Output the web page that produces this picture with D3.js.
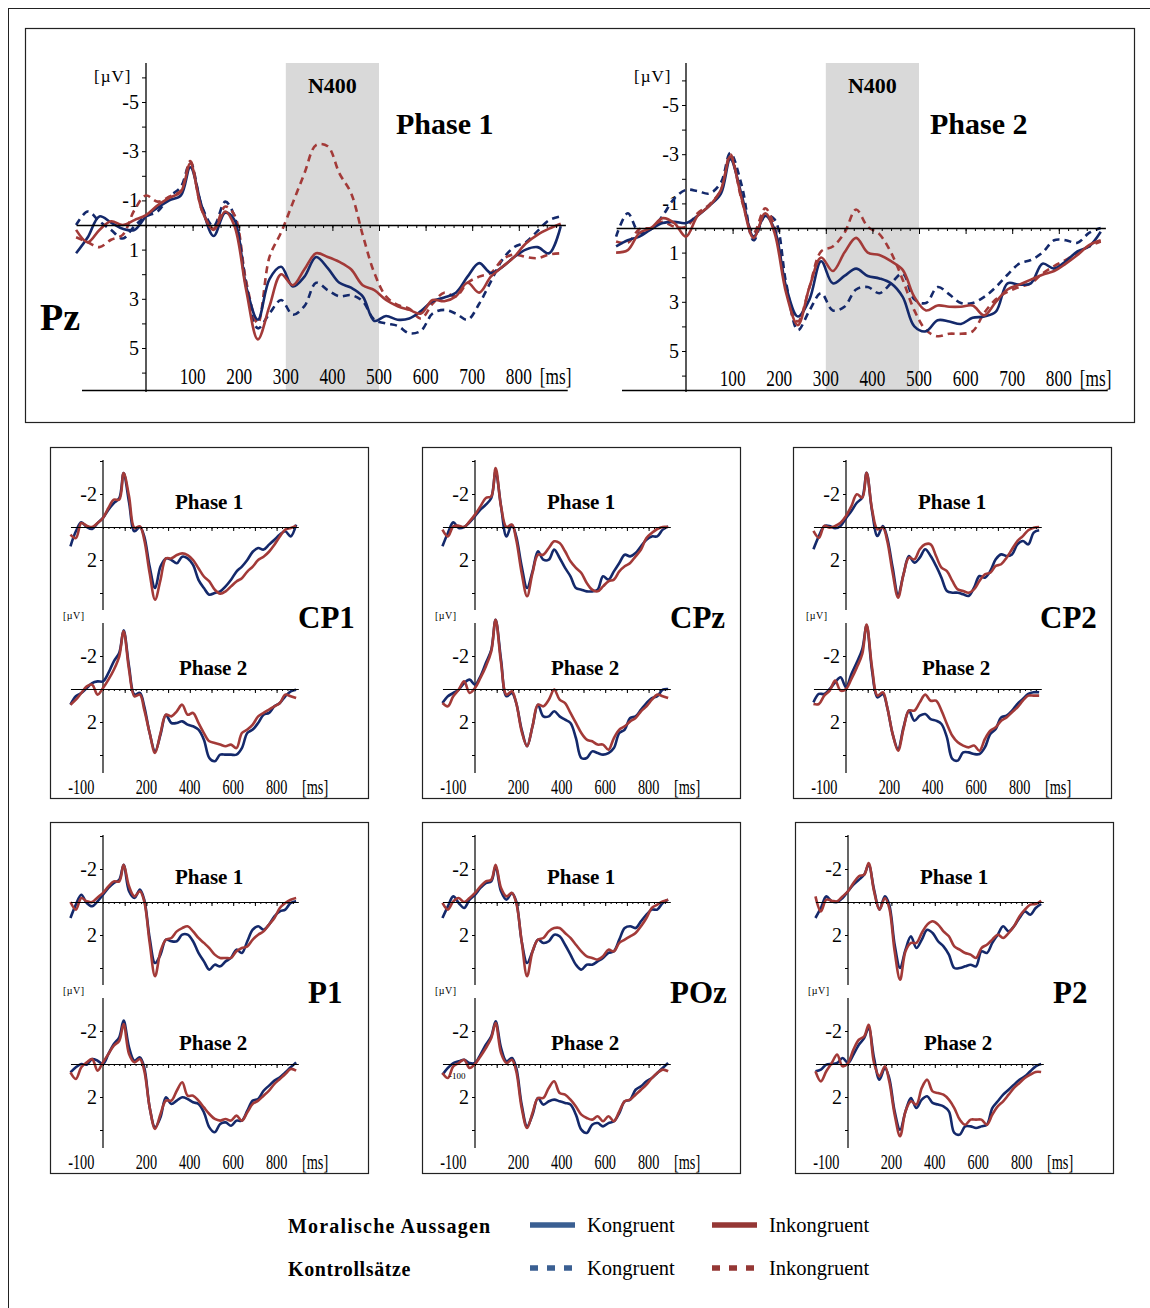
<!DOCTYPE html>
<html>
<head>
<meta charset="utf-8">
<script src="https://cdn.jsdelivr.net/npm/d3@7"></script>
<style>
    body { margin: 0; background: #fff; }
    text { font-family: "Liberation Serif", "Times New Roman", serif; }
</style>
</head>
<body>
<svg id="chart" width="1150" height="1308"></svg>
<script>
// sample times in ms, shared by every curve
var times = [-150, -125, -100, -75, -50, -25, 0, 25, 50, 75, 95, 120, 145, 170, 190, 215, 240, 265, 290, 315,
    340, 365, 390, 415, 440, 465, 490, 515, 540, 565, 590, 615, 640, 665, 690, 715, 740, 765, 790, 815, 840, 865, 890];

// Pz, values in microvolt (MK = Moralische Kongruent, MI = Moralische Inkongruent, KK / KI = Kontrollsaetze)
var pzP1MK = [1.15, 0.5, -0.35, -0.1, 0.15, 0.2, -0.35, -0.7, -1.0, -1.2, -2.35, -0.75, 0.45, -0.5, -0.2, 2.5, 3.85, 2.2, 1.7, 2.5, 2.1, 1.3, 1.75, 2.35, 2.55, 2.9, 3.9, 3.7, 3.85, 3.8, 3.5, 3.1, 2.95, 2.75, 2.1, 1.55, 1.95, 1.7, 1.3, 1.0, 0.9, 1.15, 0.05];
var pzP1MI = [0.2, 0.7, 0.2, -0.15, 0, -0.2, -0.4, -0.8, -1.1, -1.35, -2.5, -0.6, 0.2, -0.55, 0.05, 2.65, 4.65, 3.3, 2.0, 2.45, 1.8, 1.15, 1.3, 1.5, 1.8, 2.45, 2.65, 3.05, 3.3, 3.45, 3.6, 3.05, 3.1, 2.9, 2.35, 2.75, 2.1, 1.7, 1.3, 0.75, 0.4, 0.15, -0.05];
var pzP1KK = [0, -0.55, -0.15, 0.2, 0.55, 0.05, -0.35, -0.55, -1.15, -1.55, -2.55, -0.75, 0.05, -0.95, -0.35, 2.35, 4.2, 3.6, 3.05, 3.65, 3.3, 2.35, 2.65, 2.9, 2.85, 3.1, 3.85, 4.0, 4.1, 4.4, 4.3, 3.6, 3.45, 3.6, 3.85, 3.2, 2.3, 1.4, 0.9, 0.7, 0.25, -0.2, -0.35];
var pzP1KI = [0.5, 0.7, 0.9, 0.6, 0.4, -0.6, -1.2, -0.95, -1.15, -1.4, -2.6, -0.6, 0.15, -0.75, -0.4, 2.3, 4.0, 1.3, 0.3, -0.9, -2.1, -3.25, -3.2, -2.1, -1.3, 0.4, 1.95, 2.9, 3.25, 3.4, 3.8, 3.2, 2.75, 2.9, 2.35, 2.1, 1.95, 1.4, 1.2, 1.3, 1.35, 1.2, 1.15];
var pzP2MK = [0.75, 0.5, 0.35, 0.05, -0.2, -0.25, -0.2, -0.5, -0.9, -1.4, -2.8, -1.3, 0.35, -0.5, 0.05, 2.4, 3.6, 2.9, 1.35, 2.25, 1.95, 1.65, 1.95, 2.05, 2.25, 2.8, 4.0, 4.2, 3.75, 3.8, 3.9, 3.65, 3.6, 3.4, 2.25, 2.3, 2.25, 1.45, 1.65, 1.35, 0.95, 0.75, 0.15];
var pzP2MI = [1.0, 0.9, 0.2, 0, -0.4, -0.2, 0.35, -0.5, -0.9, -1.55, -2.9, -1.15, 0.4, -0.6, 0.2, 2.65, 3.95, 2.4, 1.2, 1.75, 1.0, 0.4, 1.0, 1.1, 1.35, 1.7, 2.8, 3.35, 3.15, 3.2, 3.2, 3.15, 3.55, 3.0, 2.5, 2.3, 2.1, 1.9, 1.75, 1.45, 1.1, 0.7, 0.5];
var pzP2KK = [0.35, -0.6, 0.2, 0.05, -0.5, -1.2, -1.55, -1.5, -1.4, -1.85, -3.05, -1.7, 0.5, -0.5, -0.35, 2.25, 4.15, 3.35, 2.65, 3.35, 3.2, 2.5, 2.4, 2.65, 2.25, 1.85, 2.9, 3.05, 2.4, 2.7, 3.05, 3.05, 2.8, 2.4, 1.9, 1.45, 1.3, 1.0, 0.5, 0.5, 0.6, 0.2, 0];
var pzP2KI = [0.55, 0.6, 0.05, 0, -0.25, -0.05, -0.05, -0.6, -0.95, -1.55, -3.0, -1.1, 0.2, -0.8, -0.05, 2.5, 3.8, 2.4, 0.95, 0.75, 0.2, -0.75, -0.05, 0.25, 1.0, 2.1, 3.35, 4.15, 4.4, 4.3, 4.3, 4.2, 3.45, 2.9, 2.6, 2.4, 2.25, 1.85, 1.55, 1.3, 1.0, 0.75, 0.55];

// other electrodes, Moralische Aussagen only
var cp1P1MK = [1.17, 0.26, -0.28, 0, 0.12, -0.24, -0.55, -1.05, -1.45, -1.75, -3.27, -1.5, 0.26, 0, 0.57, 2.4, 3.7, 2.4, 1.9, 2.0, 2.2, 1.8, 1.9, 2.3, 3.2, 3.7, 4.1, 4.0, 3.9, 3.6, 3.2, 2.7, 2.4, 2.0, 1.5, 1.27, 1.37, 1.07, 0.77, 0.46, 0.26, 0.57, -0.14];
var cp1P1MI = [0.46, 0.67, -0.24, -0.08, 0, -0.24, -0.55, -1.15, -1.66, -1.66, -3.27, -1.86, 0.06, -0.04, 0.77, 2.8, 4.4, 3.2, 1.9, 1.9, 1.7, 1.6, 1.7, 2.0, 2.5, 3.0, 3.3, 3.8, 4.04, 3.9, 3.6, 3.3, 3.1, 2.7, 2.4, 2.0, 1.8, 1.5, 1.07, 0.57, 0.16, 0.06, -0.08];
var cp1P2MK = [0.95, 0.44, 0.24, -0.06, -0.36, -0.46, -0.46, -0.97, -1.68, -2.2, -3.56, -1.37, 0.34, 0.24, 1.05, 2.67, 3.78, 2.77, 1.56, 2.06, 2.06, 1.96, 2.16, 2.26, 2.46, 3.07, 4.18, 4.38, 3.98, 3.98, 3.98, 3.98, 3.58, 2.67, 2.46, 2.06, 1.56, 1.45, 1.05, 0.85, 0.44, 0.14, 0.04];
var cp1P2MI = [0.95, 0.65, 0.24, -0.16, -0.26, 0.34, -0.06, -0.57, -1.17, -1.98, -3.5, -1.17, 0.44, 0.34, 1.25, 2.67, 3.88, 2.67, 1.56, 1.66, 1.35, 0.95, 1.56, 1.45, 2.06, 2.67, 3.17, 3.27, 3.37, 3.47, 3.37, 3.58, 2.67, 2.46, 2.16, 1.66, 1.45, 1.25, 1.05, 0.85, 0.34, 0.44, 0.55];
var cpzP1MK = [1.17, 0.36, -0.28, 0.06, 0, -0.28, -0.65, -1.05, -1.35, -1.76, -3.37, -1.25, 0.57, -0.14, 0.57, 2.38, 3.7, 2.69, 1.47, 1.98, 1.98, 1.37, 1.88, 2.48, 2.99, 3.7, 3.8, 3.9, 3.9, 3.8, 2.99, 3.19, 2.69, 2.18, 1.68, 1.78, 1.58, 1.17, 0.77, 0.57, 0.57, 0.16, -0.04];
var cpzP1MI = [0.16, 0.57, -0.04, -0.08, 0, -0.34, -0.75, -1.25, -1.76, -1.86, -3.58, -1.25, 0, -0.14, 0.77, 2.79, 4.2, 2.79, 1.68, 1.68, 1.27, 0.87, 0.97, 1.47, 2.08, 2.48, 2.79, 3.39, 3.8, 3.9, 3.6, 3.29, 3.19, 2.69, 2.38, 2.18, 1.78, 1.37, 0.67, 0.36, 0.12, 0, 0];
var cpzP2MK = [0.85, 0.44, 0.24, 0.04, -0.36, -0.57, -0.26, -0.77, -1.58, -2.38, -4.2, -1.78, 0.44, 0.24, 0.85, 2.46, 3.47, 2.26, 0.95, 1.66, 1.66, 1.35, 1.66, 1.86, 2.06, 2.97, 4.18, 4.18, 3.78, 3.88, 3.98, 3.88, 3.58, 2.67, 2.46, 1.76, 1.66, 1.25, 0.85, 0.55, 0.44, 0.04, 0];
var cpzP2MI = [0.85, 1.05, 0.44, 0.04, -0.46, 0.24, -0.06, -0.67, -1.37, -2.28, -4.2, -1.58, 0.34, 0.14, 0.85, 2.57, 3.47, 2.26, 0.95, 1.05, 0.65, 0.04, 0.65, 0.85, 1.45, 2.06, 2.67, 3.07, 3.17, 3.37, 3.37, 3.68, 2.97, 2.46, 2.26, 1.96, 1.76, 1.35, 1.05, 0.65, 0.34, 0.44, 0.55];
var cp2P1MK = [1.35, 0.55, -0.06, -0.06, 0.08, -0.06, -0.53, -0.97, -1.47, -1.78, -3.29, -0.97, 0.55, -0.06, 0.65, 2.46, 4.08, 2.87, 1.76, 2.16, 1.86, 1.35, 1.76, 2.36, 3.07, 3.88, 3.98, 3.98, 4.08, 4.18, 3.68, 2.97, 3.07, 2.67, 1.96, 1.66, 1.76, 1.66, 1.05, 0.85, 1.05, 0.34, 0.2];
var cp2P1MI = [0.24, 0.65, -0.06, 0.04, -0.06, -0.26, -0.67, -1.27, -1.98, -1.78, -3.29, -1.07, 0.14, 0.04, 0.85, 2.77, 4.28, 2.87, 1.86, 1.96, 1.35, 1.05, 1.05, 1.76, 2.46, 2.67, 3.27, 3.78, 3.88, 3.98, 3.78, 3.27, 2.87, 2.77, 2.36, 2.26, 1.86, 1.35, 0.85, 0.55, 0.2, 0.04, 0];
var cp2P2MK = [0.81, 0.3, 0.3, 0, -0.4, -0.71, -0.1, -0.91, -1.62, -2.42, -3.84, -1.11, 0.51, 0.3, 1.11, 2.73, 3.64, 2.32, 1.31, 1.92, 1.62, 1.52, 1.82, 1.92, 2.12, 2.93, 4.24, 4.34, 3.84, 3.84, 3.94, 3.94, 3.54, 2.73, 2.42, 1.72, 1.62, 1.31, 0.91, 0.61, 0.3, 0.2, 0.2];
var cp2P2MI = [0.91, 0.91, 0.4, 0.1, -0.51, 0.1, 0, -0.61, -1.31, -2.12, -3.9, -1.31, 0.4, 0.2, 1.11, 2.73, 3.74, 2.42, 1.31, 1.31, 0.81, 0.34, 0.71, 0.71, 1.31, 2.12, 2.83, 3.23, 3.43, 3.54, 3.43, 3.74, 3.03, 2.53, 2.32, 1.92, 1.72, 1.41, 1.11, 0.71, 0.4, 0.4, 0.4];
var p1P1MK = [0.97, 0.16, -0.44, 0.06, 0.26, -0.04, -0.44, -0.85, -1.15, -1.35, -2.26, -0.65, -0.24, -0.75, -0.14, 2.18, 3.7, 3.19, 2.28, 2.38, 2.38, 1.98, 1.98, 2.38, 3.09, 3.6, 4.1, 3.8, 3.9, 3.6, 3.39, 2.89, 3.09, 2.38, 1.68, 1.47, 1.68, 1.37, 0.87, 0.57, 0.46, 0.06, -0.04];
var p1P1MI = [0, 0.46, -0.24, -0.04, 0, -0.28, -0.55, -0.95, -1.25, -1.25, -2.26, -0.95, -0.34, -0.65, -0.04, 2.48, 4.5, 3.0, 2.28, 2.18, 1.78, 1.58, 1.47, 1.78, 2.18, 2.48, 2.79, 3.19, 3.39, 3.39, 3.39, 2.99, 2.79, 2.69, 2.28, 1.98, 1.78, 1.37, 0.97, 0.36, 0.06, -0.14, -0.24];
var p1P2MK = [0.51, 0.2, 0, 0.04, -0.3, -0.2, 0, -0.61, -1.21, -1.62, -2.63, -1.01, -0.2, -0.4, 0.2, 2.63, 3.84, 3.23, 2.02, 2.42, 2.22, 2.02, 2.12, 2.32, 2.42, 2.93, 3.84, 4.14, 3.64, 3.54, 3.74, 3.43, 3.43, 2.83, 2.22, 2.12, 1.62, 1.31, 1.01, 0.81, 0.51, 0.2, -0.1];
var p1P2MI = [0.51, 0.91, 0.2, -0.1, -0.3, 0.4, -0.1, -0.61, -1.11, -1.41, -2.42, -0.61, -0.1, -0.3, 0.4, 2.63, 3.94, 3.03, 2.22, 2.22, 1.62, 1.11, 1.92, 1.92, 2.22, 2.63, 3.03, 3.33, 3.43, 3.33, 3.43, 3.13, 3.43, 2.93, 2.42, 2.22, 1.92, 1.62, 1.21, 0.91, 0.61, 0.3, 0.4];
var pozP1MK = [0.97, 0.26, -0.34, 0.06, 0.36, -0.14, -0.44, -0.85, -1.15, -1.25, -2.16, -0.65, -0.14, -0.55, -0.04, 2.38, 3.7, 3.0, 2.28, 2.48, 2.38, 1.98, 2.08, 2.59, 3.19, 3.8, 4.1, 3.8, 3.8, 3.6, 3.39, 3.09, 2.99, 2.28, 1.58, 1.47, 1.58, 1.17, 0.77, 0.46, 0.46, 0.06, -0.14];
var pozP1MI = [0.06, 0.46, -0.04, -0.24, 0, -0.24, -0.55, -0.95, -1.25, -1.35, -2.26, -0.85, -0.34, -0.55, 0.06, 2.38, 4.5, 3.0, 2.28, 2.18, 1.78, 1.58, 1.58, 1.88, 2.18, 2.59, 2.99, 3.29, 3.39, 3.49, 3.29, 2.89, 2.99, 2.48, 2.28, 2.08, 1.88, 1.47, 0.97, 0.36, 0.16, -0.04, -0.14];
var pozP2MK = [0.65, 0.24, -0.06, -0.16, -0.26, -0.06, -0.06, -0.57, -1.17, -1.68, -2.59, -0.97, -0.16, -0.36, 0.24, 2.46, 3.78, 3.07, 2.06, 2.46, 2.26, 2.16, 2.26, 2.36, 2.46, 3.07, 3.98, 4.18, 3.68, 3.58, 3.78, 3.58, 3.47, 2.97, 2.26, 2.16, 1.56, 1.35, 1.05, 0.85, 0.55, 0.24, -0.06];
var pozP2MI = [0.55, 0.85, 0.14, -0.06, -0.26, 0.24, 0, -0.46, -0.97, -1.58, -2.48, -0.67, -0.06, -0.26, 0.44, 2.67, 3.88, 2.97, 2.06, 2.06, 1.45, 1.05, 1.76, 1.86, 2.16, 2.57, 3.07, 3.27, 3.37, 3.17, 3.47, 3.17, 3.47, 2.87, 2.26, 2.16, 1.86, 1.56, 1.25, 0.85, 0.55, 0.34, 0.44];
var p2P1MK = [0.97, 0.36, -0.34, -0.04, 0, -0.24, -0.65, -1.05, -1.35, -1.66, -2.26, -0.75, 0.46, -0.34, 0.16, 2.59, 4.0, 2.89, 2.08, 2.79, 2.28, 1.68, 1.88, 2.38, 2.69, 3.19, 4.0, 4.0, 3.9, 3.8, 3.9, 2.99, 3.09, 2.48, 1.98, 1.47, 1.78, 1.47, 0.97, 0.57, 0.77, 0.36, 0.12];
var p2P1MI = [-0.34, 0.57, -0.14, -0.08, -0.04, -0.34, -0.65, -1.15, -1.56, -1.66, -2.36, -0.65, 0.46, -0.24, 0.36, 2.99, 4.71, 2.99, 2.48, 2.48, 1.88, 1.37, 1.17, 1.37, 1.78, 2.08, 2.69, 2.89, 3.09, 3.19, 3.39, 2.79, 2.59, 2.28, 1.98, 2.18, 1.88, 1.47, 0.87, 0.46, 0.16, 0.12, -0.08];
var p2P2MK = [0.44, 0.34, 0.04, 0, -0.06, -0.36, -0.06, -0.57, -1.17, -1.58, -2.18, -0.36, 0.95, 0.24, 0.85, 2.87, 3.98, 2.87, 2.06, 2.67, 2.16, 1.96, 2.36, 2.46, 2.57, 2.87, 4.18, 4.28, 3.78, 3.78, 3.88, 3.78, 3.68, 2.67, 2.26, 1.86, 1.56, 1.25, 0.95, 0.75, 0.44, 0.14, 0];
var p2P2MI = [0.44, 1.05, 0.44, -0.06, -0.57, 0.14, -0.06, -0.87, -1.47, -1.68, -2.38, -0.06, 0.75, 0.14, 1.05, 3.07, 4.38, 2.87, 2.26, 2.46, 1.45, 0.95, 1.66, 1.76, 1.86, 2.16, 2.67, 3.37, 3.68, 3.37, 3.37, 3.37, 3.68, 3.07, 2.57, 2.26, 1.86, 1.45, 1.15, 0.85, 0.65, 0.48, 0.48];

// tick labels
var bigYLabels = [-5, -3, -1, 1, 3, 5];
var bigXLabels = [100, 200, 300, 400, 500, 600, 700, 800];
var smallYLabels = [-2, 2];
var smallXLabels = [-100, 200, 400, 600, 800];
var n400Window = [300, 500];

var legendRows = ['Moralische Aussagen', 'Kontrollsätze'];
var legendItems = ['Kongruent', 'Inkongruent'];

var BLUE = '#14296b';
var RED = '#a33a38';
var LEGEND_BLUE = '#3a5f92';
var LEGEND_RED = '#953735';

var BIG_MS = 0.466;   // px per ms
var BIG_UV = 24.6;    // px per microvolt
var SMALL_MS = 0.217;
var SMALL_UV = 16.5;

var svg = d3.select('#chart');

svg.append('rect')
    .attr('x', 8.5).attr('y', 8.5)
    .attr('width', 1200).attr('height', 1400)
    .attr('fill', 'none').attr('stroke', '#222').attr('stroke-width', 1);

svg.append('rect')
    .attr('x', 25.5).attr('y', 28.5)
    .attr('width', 1109).attr('height', 394)
    .attr('fill', 'none').attr('stroke', '#222').attr('stroke-width', 1.2);

var bigPanels = [
    { axisX: 146, zeroY: 225, phase: 'Phase 1', phaseX: 396, labelY: 384, series: [pzP1KK, pzP1KI, pzP1MK, pzP1MI], electrode: 'Pz' },
    { axisX: 686, zeroY: 228, phase: 'Phase 2', phaseX: 930, labelY: 386, series: [pzP2KK, pzP2KI, pzP2MK, pzP2MI] }
];
var seriesStyles = [
    { color: BLUE, dash: '7,5' },
    { color: RED, dash: '7,5' },
    { color: BLUE, dash: null },
    { color: RED, dash: null }
];

bigPanels.forEach(drawBig);

function condensed (sel, x, y, sx) {
    sel.attr('transform', 'translate(' + x + ',' + y + ') scale(' + sx + ',1)');
}

function drawBig (p) {
    var g = svg.append('g');

    var x = d3.scaleLinear()
        .domain([-150, 900])
        .range([p.axisX - 150 * BIG_MS, p.axisX + 900 * BIG_MS]);
    var y = d3.scaleLinear()
        .domain([-6.6, 6.75])
        .range([p.zeroY - 6.6 * BIG_UV, p.zeroY + 6.75 * BIG_UV]);

    g.append('rect')
        .attr('x', x(n400Window[0]))
        .attr('y', 63)
        .attr('width', x(n400Window[1]) - x(n400Window[0]))
        .attr('height', 390 - 63)
        .attr('fill', '#d9d9d9');

    g.append('text')
        .attr('x', (x(n400Window[0]) + x(n400Window[1])) / 2)
        .attr('y', 93)
        .attr('text-anchor', 'middle')
        .attr('font-size', 22)
        .attr('font-weight', 'bold')
        .text('N400');

    // y axis
    var yAxis = d3.axisLeft(y)
        .tickValues(d3.range(-6, 7))
        .tickSize(4)
        .tickPadding(3)
        .tickFormat(function (d) { return bigYLabels.indexOf(d) >= 0 ? String(d) : ''; });
    var ya = g.append('g')
        .attr('transform', 'translate(' + p.axisX + ',0)')
        .call(yAxis);
    ya.select('.domain').remove();
    ya.selectAll('text').attr('font-family', '"Liberation Serif", serif').attr('font-size', 20).attr('fill', '#000');
    ya.selectAll('line').attr('stroke', '#000');
    g.append('line')
        .attr('x1', p.axisX).attr('x2', p.axisX)
        .attr('y1', 63).attr('y2', 392)
        .attr('stroke', '#000').attr('stroke-width', 1.3);

    g.append('text')
        .attr('x', p.axisX - 52)
        .attr('y', 82)
        .attr('font-size', 17)
        .attr('letter-spacing', 1)
        .text('[\u00b5V]');

    // bottom line
    g.append('line')
        .attr('x1', p.axisX - 64).attr('x2', x(905))
        .attr('y1', 390.5).attr('y2', 390.5)
        .attr('stroke', '#000').attr('stroke-width', 1.3);

    // time labels
    g.selectAll('.xlab')
        .data(bigXLabels)
        .enter()
        .append('text')
        .attr('class', 'xlab')
        .attr('text-anchor', 'middle')
        .attr('font-size', 24)
        .each(function (d) { condensed(d3.select(this), x(d), p.labelY, 0.72); })
        .text(function (d) { return d; });
    g.append('text')
        .attr('font-size', 24)
        .each(function () { condensed(d3.select(this), x(800) + 21, p.labelY, 0.72); })
        .text('[ms]');

    // curves
    var line = d3.line()
        .x(function (d, i) { return x(times[i]); })
        .y(function (d) { return y(d); })
        .curve(d3.curveCatmullRom.alpha(0.5));

    p.series.forEach(function (s, i) {
        g.append('path')
            .attr('d', line(s))
            .attr('fill', 'none')
            .attr('stroke', seriesStyles[i].color)
            .attr('stroke-width', 2.6)
            .attr('stroke-dasharray', seriesStyles[i].dash);
    });

    // zero line with time ticks
    drawZeroAxis(g, x, y(0), 20, 3, 6, 1.4);

    g.append('text')
        .attr('x', p.phaseX)
        .attr('y', 134)
        .attr('font-size', 30)
        .attr('font-weight', 'bold')
        .text(p.phase);

    if (p.electrode) {
        g.append('text')
            .attr('x', 40)
            .attr('y', 330)
            .attr('font-size', 38)
            .attr('font-weight', 'bold')
            .text(p.electrode);
    }
}

function drawZeroAxis (g, x, y0, step, minorSize, majorSize, width) {
    var minor = d3.axisBottom(x)
        .tickValues(d3.range(0, 900, step))
        .tickSize(minorSize)
        .tickSizeOuter(0)
        .tickFormat('');
    var major = d3.axisBottom(x)
        .tickValues(d3.range(100, 900, 100))
        .tickSize(majorSize)
        .tickSizeOuter(0)
        .tickFormat('');
    var a = g.append('g').attr('transform', 'translate(0,' + y0 + ')').call(minor);
    var b = g.append('g').attr('transform', 'translate(0,' + y0 + ')').call(major);
    a.select('.domain').attr('stroke', '#000').attr('stroke-width', width);
    b.select('.domain').remove();
    a.selectAll('line').attr('stroke', '#000');
    b.selectAll('line').attr('stroke', '#000');
}

// small electrode panels
var smallPanels = [
    { name: 'CP1', left: 50, top: 447, nameDx: 248, p1: [cp1P1MK, cp1P1MI], p2: [cp1P2MK, cp1P2MI] },
    { name: 'CPz', left: 422, top: 447, nameDx: 248, p1: [cpzP1MK, cpzP1MI], p2: [cpzP2MK, cpzP2MI] },
    { name: 'CP2', left: 793, top: 447, nameDx: 247, p1: [cp2P1MK, cp2P1MI], p2: [cp2P2MK, cp2P2MI] },
    { name: 'P1', left: 50, top: 822, nameDx: 258, p1: [p1P1MK, p1P1MI], p2: [p1P2MK, p1P2MI] },
    { name: 'POz', left: 422, top: 822, nameDx: 248, p1: [pozP1MK, pozP1MI], p2: [pozP2MK, pozP2MI], stray: true },
    { name: 'P2', left: 795, top: 822, nameDx: 258, p1: [p2P1MK, p2P1MI], p2: [p2P2MK, p2P2MI] }
];

smallPanels.forEach(drawSmall);

function drawSmall (p) {
    var g = svg.append('g');
    var axisX = p.left + 53;

    g.append('rect')
        .attr('x', p.left + 0.5).attr('y', p.top + 0.5)
        .attr('width', 318).attr('height', 351)
        .attr('fill', 'none').attr('stroke', '#222').attr('stroke-width', 1.2);

    var x = d3.scaleLinear()
        .domain([-150, 900])
        .range([axisX - 150 * SMALL_MS, axisX + 900 * SMALL_MS]);

    var phases = [
        { zero: p.top + 80, yTop: p.top + 13, yBot: p.top + 163, label: 'Phase 1', lx: p.left + 159, ly: p.top + 62, series: p.p1 },
        { zero: p.top + 242, yTop: p.top + 176, yBot: p.top + 326, label: 'Phase 2', lx: p.left + 163, ly: p.top + 228, series: p.p2 }
    ];

    phases.forEach(function (ph) {
        var y = d3.scaleLinear()
            .domain([-1, 1])
            .range([ph.zero - SMALL_UV, ph.zero + SMALL_UV]);

        var yAxis = d3.axisLeft(y)
            .tickValues([-4, -2, 2, 4].filter(function (v) { return y(v) > ph.yTop && y(v) < ph.yBot; }))
            .tickSize(3)
            .tickPadding(3)
            .tickFormat(function (d) { return smallYLabels.indexOf(d) >= 0 ? String(d) : ''; });
        var ya = g.append('g')
            .attr('transform', 'translate(' + axisX + ',0)')
            .call(yAxis);
        ya.select('.domain').remove();
        ya.selectAll('text').attr('font-family', '"Liberation Serif", serif').attr('font-size', 20).attr('fill', '#000');
        ya.selectAll('line').attr('stroke', '#000');

        g.append('line')
            .attr('x1', axisX).attr('x2', axisX)
            .attr('y1', ph.yTop).attr('y2', ph.yBot)
            .attr('stroke', '#000').attr('stroke-width', 1.2);

        g.append('text')
            .attr('x', ph.lx)
            .attr('y', ph.ly)
            .attr('text-anchor', 'middle')
            .attr('font-size', 21)
            .attr('font-weight', 'bold')
            .text(ph.label);

        var line = d3.line()
            .x(function (d, i) { return x(times[i]); })
            .y(function (d) { return y(d); })
            .curve(d3.curveCatmullRom.alpha(0.5));

        [BLUE, RED].forEach(function (c, i) {
            g.append('path')
                .attr('d', line(ph.series[i]))
                .attr('fill', 'none')
                .attr('stroke', c)
                .attr('stroke-width', 2.6);
        });

        drawZeroAxis(g, x, y(0), 25, 2, 4, 1.2);

        if (p.stray && ph.label === 'Phase 2') {
            g.append('text')
                .attr('x', x(-100) + 4)
                .attr('y', ph.zero + 15)
                .attr('text-anchor', 'middle')
                .attr('font-size', 9)
                .text('-100');
        }
    });

    g.append('text')
        .attr('x', p.left + 13)
        .attr('y', p.top + 172)
        .attr('font-size', 10)
        .attr('letter-spacing', 0.5)
        .text('[\u00b5V]');

    g.append('text')
        .attr('x', p.left + p.nameDx)
        .attr('y', p.top + 181)
        .attr('font-size', 31)
        .attr('font-weight', 'bold')
        .text(p.name);

    g.selectAll('.xlab')
        .data(smallXLabels)
        .enter()
        .append('text')
        .attr('class', 'xlab')
        .attr('text-anchor', 'middle')
        .attr('font-size', 21)
        .each(function (d) { condensed(d3.select(this), x(d), p.top + 347, 0.68); })
        .text(function (d) { return d; });
    g.append('text')
        .attr('font-size', 21)
        .each(function () { condensed(d3.select(this), p.left + 252, p.top + 347, 0.68); })
        .text('[ms]');
}

// legend
var legend = svg.append('g');
legendRows.forEach(function (row, r) {
    var ly = 1225 + r * 43;
    legend.append('text')
        .attr('x', 288)
        .attr('y', ly + 8)
        .attr('font-size', 20)
        .attr('font-weight', 'bold')
        .attr('letter-spacing', r === 0 ? 1.2 : 0.6)
        .text(row);
    legendItems.forEach(function (item, i) {
        var x0 = i === 0 ? 530 : 712;
        legend.append('line')
            .attr('x1', x0).attr('x2', x0 + 45)
            .attr('y1', ly).attr('y2', ly)
            .attr('stroke', i === 0 ? LEGEND_BLUE : LEGEND_RED)
            .attr('stroke-width', 5.5)
            .attr('stroke-dasharray', r === 1 ? '8,9' : null);
        legend.append('text')
            .attr('x', x0 + 57)
            .attr('y', ly + 7)
            .attr('font-size', 20.5)
            .text(item);
    });
});
</script>
</body>
</html>
